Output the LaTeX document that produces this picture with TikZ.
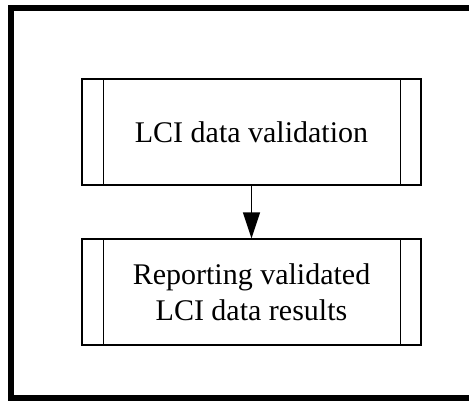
\documentclass[tikz,border=0pt]{standalone}
\usepackage{fontspec}
\setmainfont{Liberation Serif}
\usetikzlibrary{arrows.meta}
\begin{document}
\begin{tikzpicture}[x=1pt,y=-1pt,
  procbox/.style={draw=black,line width=1.4pt,minimum width=339pt,minimum height=106pt,
    inner sep=0pt,align=center,font=\fontsize{30}{36}\selectfont},
  flow/.style={line width=1.4pt,-{Triangle[length=26pt,width=17pt]}}]
\useasboundingbox (0,0) rectangle (469,400);
\begin{scope}
\clip (0,0) rectangle (469,400);
% outer frame, running off the right and bottom edges
\draw[line width=6pt] (11,8) rectangle (480,398);
\end{scope}
% predefined-process boxes
\node[procbox] (val) at (251.5,132) {LCI data validation};
\node[procbox] (rep) at (251.5,292) {Reporting validated\\LCI data results};
\foreach \n in {val,rep}{
  \draw[line width=1.4pt] ([xshift=22pt]\n.north west) -- ([xshift=22pt]\n.south west);
  \draw[line width=1.4pt] ([xshift=-21pt]\n.north east) -- ([xshift=-21pt]\n.south east);
}
\draw[flow] (val) -- (rep);
\end{tikzpicture}
\end{document}
